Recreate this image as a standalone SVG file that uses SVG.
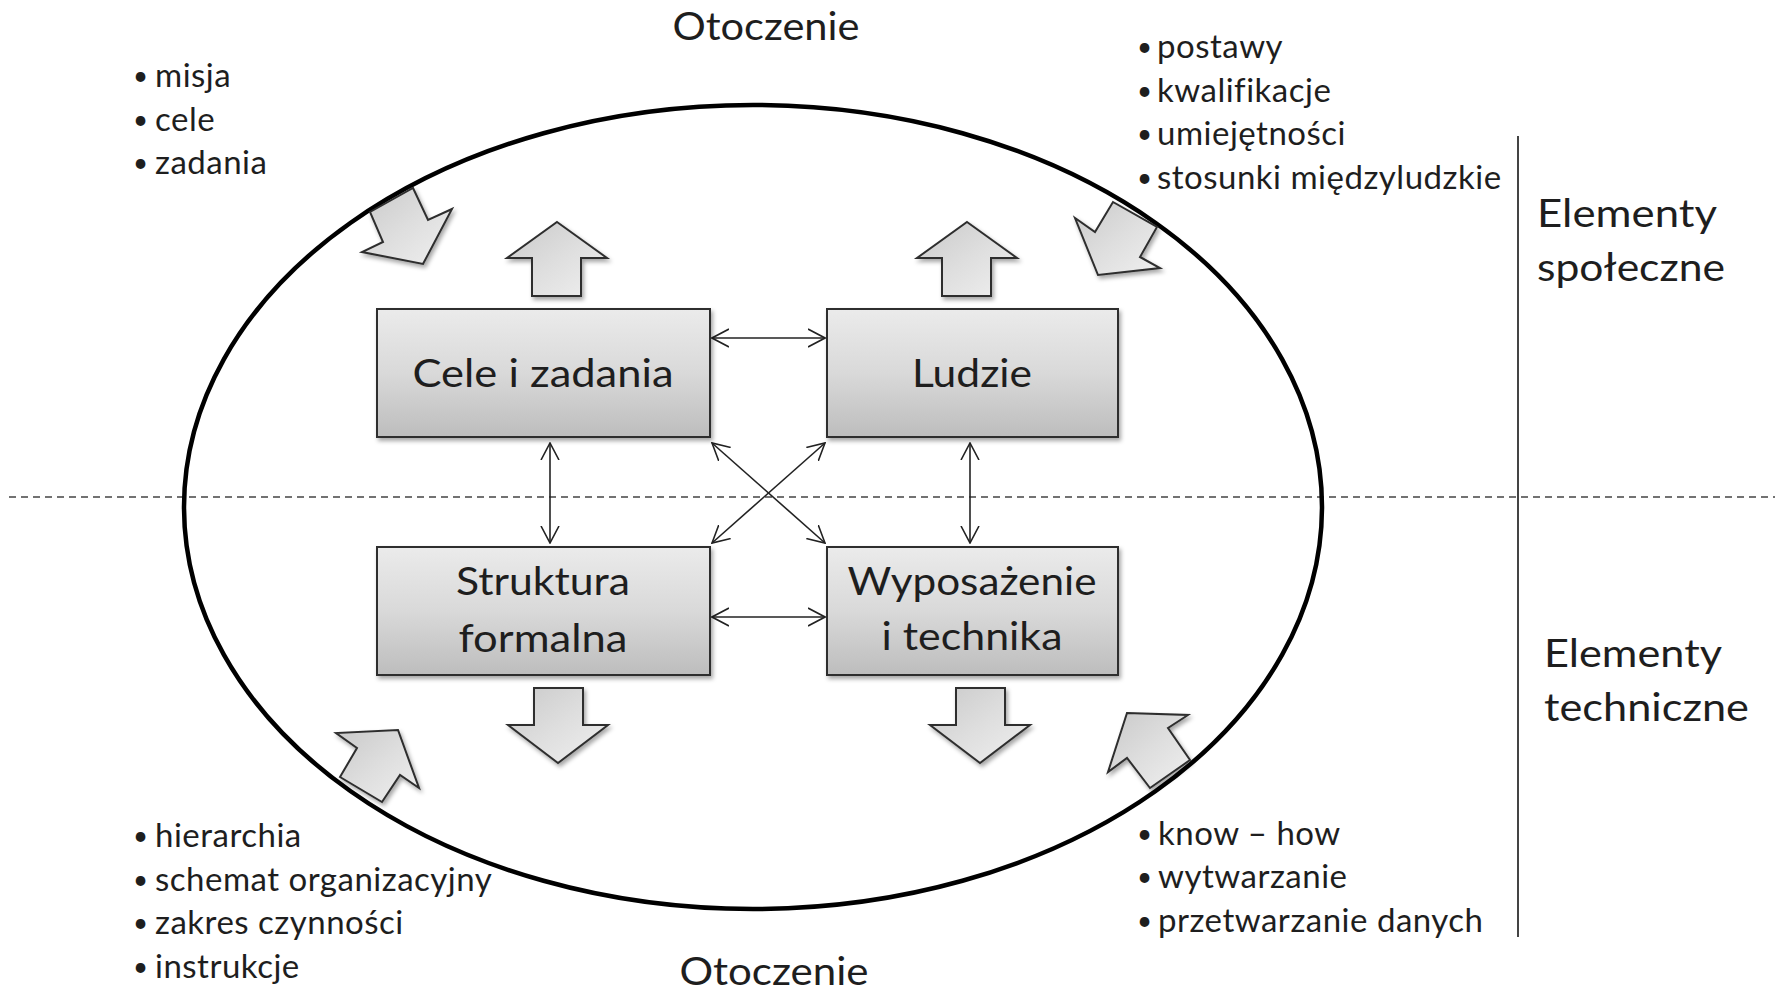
<svg xmlns="http://www.w3.org/2000/svg" width="1775" height="990" viewBox="0 0 1775 990">
<style>
.t{font-family:Lato,"Open Sans","Noto Sans",sans-serif;fill:#1e1e1e}
.li{font-size:33px;letter-spacing:0.5px}
.bu{font-size:26px;letter-spacing:0}
.big{font-size:39px}
.box{stroke:#2e2e2e;stroke-width:2;fill:url(#gBox);filter:url(#sh)}
.blk{stroke:#2e2e2e;stroke-width:2;fill:url(#gBlk);stroke-linejoin:miter;filter:url(#sh)}
.con{stroke:#222;stroke-width:1.6;fill:none;marker-start:url(#ah);marker-end:url(#ah)}
</style>
<defs>
<linearGradient id="gBox" x1="0" y1="0" x2="0" y2="1">
<stop offset="0" stop-color="#ebebeb"/><stop offset="0.5" stop-color="#d9d9d9"/><stop offset="1" stop-color="#bdbdbd"/>
</linearGradient>
<linearGradient id="gBlk" x1="0" y1="0" x2="1" y2="1">
<stop offset="0" stop-color="#c9c9c9"/><stop offset="0.5" stop-color="#dedede"/><stop offset="1" stop-color="#f0f0f0"/>
</linearGradient>
<filter id="sh" x="-10%" y="-10%" width="130%" height="130%">
<feDropShadow dx="2" dy="3" stdDeviation="2" flood-color="#000" flood-opacity="0.35"/>
</filter>
<marker id="ah" viewBox="0 0 18 20" refX="17" refY="10" markerWidth="18" markerHeight="20" markerUnits="userSpaceOnUse" orient="auto-start-reverse">
<path d="M0,1 L17,10 L0,19" fill="none" stroke="#222" stroke-width="1.6"/>
</marker>
</defs>
<rect width="1775" height="990" fill="#fff"/>

<g id="guides">
<line x1="9" y1="497" x2="1775" y2="497" stroke="#444" stroke-width="1.6" stroke-dasharray="7,5"/>
<line x1="1518" y1="136" x2="1518" y2="937" stroke="#444" stroke-width="2"/>
</g>

<g id="environment">
<ellipse cx="753" cy="507" rx="569" ry="402" fill="none" stroke="#000" stroke-width="4.5"/>
</g>

<g id="block-arrows">
<polygon class="blk" points="370,212 413,188 428,220 452,209 423,264 362,252 383,242"/>
<polygon class="blk" points="1113,202 1157,227 1140,257 1160,268 1098,275 1075,218 1095,232"/>
<polygon class="blk" points="340,777 357,748 336,733 398,730 419,788 400,775 382,802"/>
<polygon class="blk" points="1127,713 1188,715 1168,728 1190,760 1150,788 1127,758 1108,772"/>
<polygon class="blk" points="557,222 607,258 581,258 581,296 532,296 532,258 507,258"/>
<polygon class="blk" points="967,222 1017,258 991,258 991,296 942,296 942,258 917,258"/>
<polygon class="blk" points="534,688 583,688 583,725 608,725 558,763 508,725 534,725"/>
<polygon class="blk" points="956,688 1005,688 1005,725 1030,725 980,763 930,725 956,725"/>
</g>

<g id="connectors">
<line class="con" x1="712" y1="338" x2="825" y2="338"/>
<line class="con" x1="712" y1="617" x2="825" y2="617"/>
<line class="con" x1="550" y1="443" x2="550" y2="543"/>
<line class="con" x1="970" y1="443" x2="970" y2="543"/>
<line class="con" x1="712" y1="443" x2="825" y2="543"/>
<line class="con" x1="825" y1="443" x2="712" y2="543"/>
</g>

<g id="box-cele">
<rect class="box" x="377" y="309" width="333" height="128"/>
<text class="t big" x="543" y="387" text-anchor="middle" textLength="261" lengthAdjust="spacingAndGlyphs">Cele i zadania</text>
</g>
<g id="box-ludzie">
<rect class="box" x="827" y="309" width="291" height="128"/>
<text class="t big" x="972" y="387" text-anchor="middle" textLength="120" lengthAdjust="spacingAndGlyphs">Ludzie</text>
</g>
<g id="box-struktura">
<rect class="box" x="377" y="547" width="333" height="128"/>
<text class="t big" x="543" y="595" text-anchor="middle" textLength="174" lengthAdjust="spacingAndGlyphs">Struktura</text>
<text class="t big" x="543" y="652" text-anchor="middle" textLength="169" lengthAdjust="spacingAndGlyphs">formalna</text>
</g>
<g id="box-wyposazenie">
<rect class="box" x="827" y="547" width="291" height="128"/>
<text class="t big" x="972" y="595" text-anchor="middle" textLength="249" lengthAdjust="spacingAndGlyphs">Wyposażenie</text>
<text class="t big" x="972" y="650" text-anchor="middle" textLength="181" lengthAdjust="spacingAndGlyphs">i technika</text>
</g>

<g id="labels">
<text class="t big" x="766" y="40" text-anchor="middle" textLength="187" lengthAdjust="spacingAndGlyphs">Otoczenie</text>
<text class="t big" x="774" y="985" text-anchor="middle" textLength="189" lengthAdjust="spacingAndGlyphs">Otoczenie</text>

<text class="t li"><tspan class="bu" x="133" y="85">•</tspan><tspan x="155" y="87">misja</tspan></text>
<text class="t li"><tspan class="bu" x="133" y="129">•</tspan><tspan x="155" y="131">cele</tspan></text>
<text class="t li"><tspan class="bu" x="133" y="172">•</tspan><tspan x="155" y="174">zadania</tspan></text>

<text class="t li"><tspan class="bu" x="1137" y="56">•</tspan><tspan x="1157" y="58">postawy</tspan></text>
<text class="t li"><tspan class="bu" x="1137" y="100">•</tspan><tspan x="1157" y="102">kwalifikacje</tspan></text>
<text class="t li"><tspan class="bu" x="1137" y="143">•</tspan><tspan x="1157" y="145">umiejętności</tspan></text>
<text class="t li"><tspan class="bu" x="1137" y="187">•</tspan><tspan x="1157" y="189">stosunki międzyludzkie</tspan></text>

<text class="t li"><tspan class="bu" x="133" y="845">•</tspan><tspan x="155" y="847">hierarchia</tspan></text>
<text class="t li"><tspan class="bu" x="133" y="889">•</tspan><tspan x="155" y="891">schemat organizacyjny</tspan></text>
<text class="t li"><tspan class="bu" x="133" y="932">•</tspan><tspan x="155" y="934">zakres czynności</tspan></text>
<text class="t li"><tspan class="bu" x="133" y="976">•</tspan><tspan x="155" y="978">instrukcje</tspan></text>

<text class="t li"><tspan class="bu" x="1137" y="843">•</tspan><tspan x="1158" y="845">know – how</tspan></text>
<text class="t li"><tspan class="bu" x="1137" y="886">•</tspan><tspan x="1158" y="888">wytwarzanie</tspan></text>
<text class="t li"><tspan class="bu" x="1137" y="930">•</tspan><tspan x="1158" y="932">przetwarzanie danych</tspan></text>

<text class="t big" x="1537" y="227" textLength="180" lengthAdjust="spacingAndGlyphs">Elementy</text>
<text class="t big" x="1537" y="281" textLength="188" lengthAdjust="spacingAndGlyphs">społeczne</text>
<text class="t big" x="1544" y="667" textLength="178" lengthAdjust="spacingAndGlyphs">Elementy</text>
<text class="t big" x="1544" y="721" textLength="205" lengthAdjust="spacingAndGlyphs">techniczne</text>
</g>
</svg>
